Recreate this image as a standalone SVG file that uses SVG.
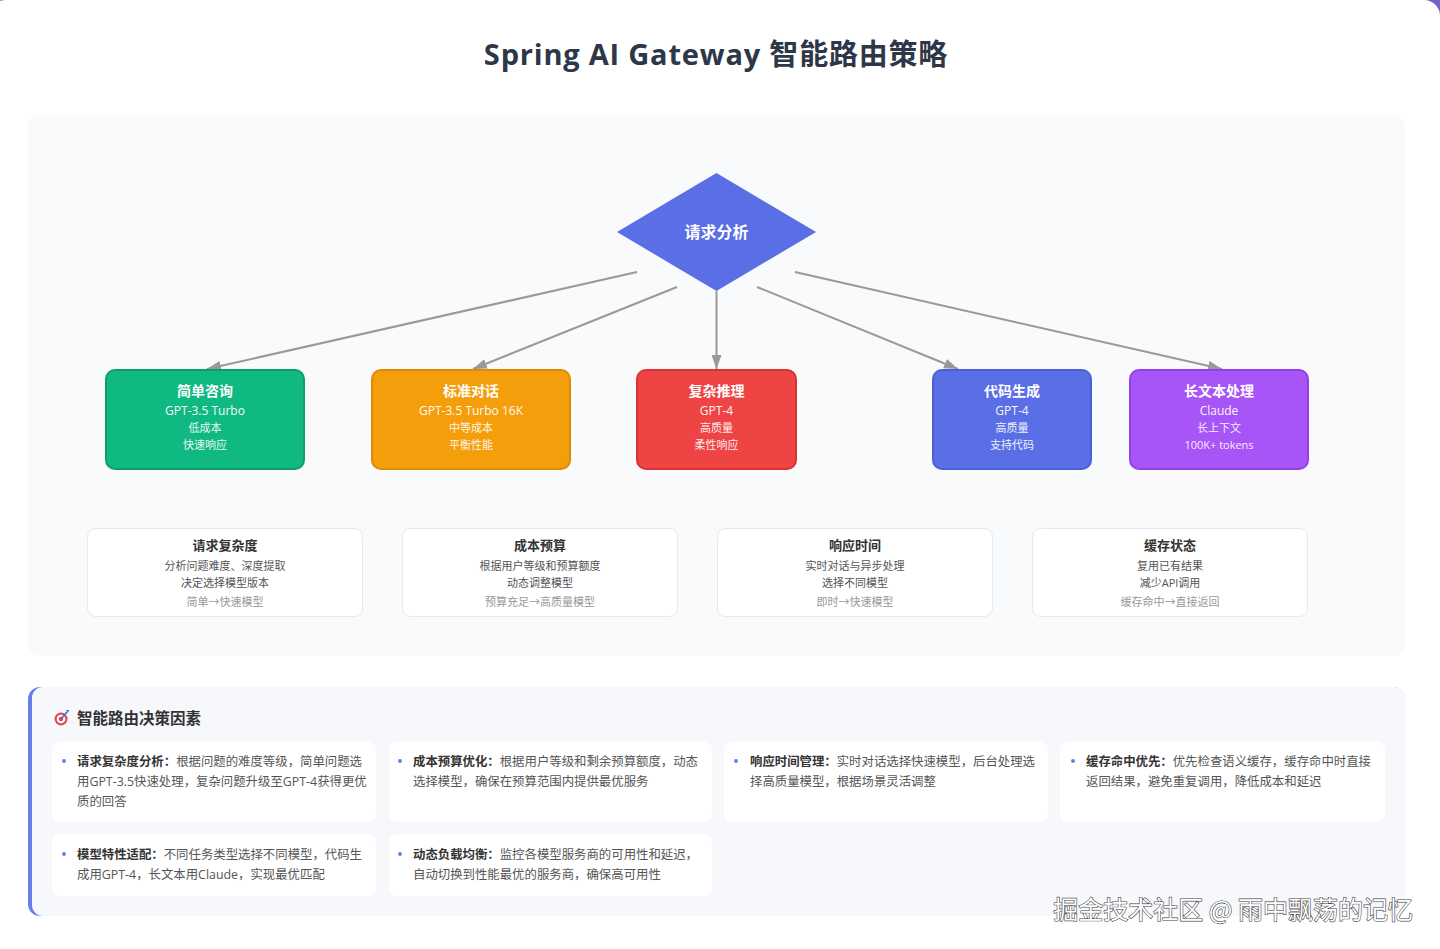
<svg xmlns="http://www.w3.org/2000/svg" width="1440" height="949" viewBox="0 0 1440 949">
<defs>
<linearGradient id="bg" x1="0" y1="0" x2="1" y2="1"><stop offset="0" stop-color="#667eea"/><stop offset="1" stop-color="#764ba2"/></linearGradient>
<marker id="arr" viewBox="0 0 14 10" refX="14" refY="5" markerWidth="14" markerHeight="10" markerUnits="userSpaceOnUse" orient="auto"><path d="M0,0 L14,5 L0,10 Z" fill="#999"/></marker>
<style>
.f{font-family:"Open Sans","Noto Sans CJK SC",sans-serif}
.c{font-family:"Noto Sans CJK SC","Open Sans",sans-serif}
.nt{font-size:14px;font-weight:bold;fill:#fff;text-anchor:middle}
.nm{font-size:12px;fill:#fff;text-anchor:middle;opacity:.95}
.ns{font-size:11px;fill:#fff;text-anchor:middle;opacity:.9}
.node rect{stroke-width:2}
.card{fill:#fff;stroke:#e5e9f0;stroke-width:1}
.ct{font-size:13px;font-weight:bold;fill:#333;text-anchor:middle}
.cl{font-size:11px;fill:#555;text-anchor:middle}
.cg{font-size:11px;fill:#999;text-anchor:middle}
.conn line{stroke:#999;stroke-width:2;marker-end:url(#arr)}
.bc{fill:#fff}
.bt{font-size:12.4px;fill:#555}
.bb{font-weight:bold;fill:#333}
.dot{fill:#667eea}
</style>
</defs>
<rect x="0" y="0" width="1440" height="949" fill="url(#bg)"/>
<rect x="-10" y="0" width="1450" height="965" rx="16" fill="#fff"/>
<text class="f" x="716" y="65" font-size="29" font-weight="bold" fill="#2d3748" text-anchor="middle" letter-spacing="0.8">Spring AI Gateway 智能路由策略</text>

<rect x="28" y="115" width="1377" height="541" rx="12" fill="#f8fafc"/>

<g id="connectors" class="conn">
<line x1="637" y1="272" x2="207" y2="369"/>
<line x1="677" y1="287" x2="473" y2="369"/>
<line x1="716.5" y1="291" x2="716.5" y2="369"/>
<line x1="757" y1="287" x2="958" y2="369"/>
<line x1="795" y1="272" x2="1222" y2="369"/>
</g>

<g id="analysis">
<polygon points="716.5,173 816,232 716.5,291 617,232" fill="#5a6ee6"/>
<text class="c" x="716.5" y="238" font-size="16" font-weight="bold" fill="#fff" text-anchor="middle">请求分析</text>
</g>

<g id="simple" class="node f">
<rect x="106" y="370" width="198" height="99" rx="9" fill="#10b981" stroke="#0f9d70"/>
<text class="nt" x="205" y="396">简单咨询</text>
<text class="nm" x="205" y="415">GPT-3.5 Turbo</text>
<text class="ns" x="205" y="432">低成本</text>
<text class="ns" x="205" y="449">快速响应</text>
</g>
<g id="standard" class="node f">
<rect x="372" y="370" width="198" height="99" rx="9" fill="#f59e0b" stroke="#dd8a08"/>
<text class="nt" x="471" y="396">标准对话</text>
<text class="nm" x="471" y="415">GPT-3.5 Turbo 16K</text>
<text class="ns" x="471" y="432">中等成本</text>
<text class="ns" x="471" y="449">平衡性能</text>
</g>
<g id="complex" class="node f">
<rect x="637" y="370" width="159" height="99" rx="9" fill="#ef4444" stroke="#d83434"/>
<text class="nt" x="716.5" y="396">复杂推理</text>
<text class="nm" x="716.5" y="415">GPT-4</text>
<text class="ns" x="716.5" y="432">高质量</text>
<text class="ns" x="716.5" y="449">柔性响应</text>
</g>
<g id="code" class="node f">
<rect x="933" y="370" width="158" height="99" rx="9" fill="#5a6ee6" stroke="#4c5fd6"/>
<text class="nt" x="1012" y="396">代码生成</text>
<text class="nm" x="1012" y="415">GPT-4</text>
<text class="ns" x="1012" y="432">高质量</text>
<text class="ns" x="1012" y="449">支持代码</text>
</g>
<g id="longtext" class="node f">
<rect x="1130" y="370" width="178" height="99" rx="9" fill="#a855f7" stroke="#9440e8"/>
<text class="nt" x="1219" y="396">长文本处理</text>
<text class="nm" x="1219" y="415">Claude</text>
<text class="ns" x="1219" y="432">长上下文</text>
<text class="ns" x="1219" y="449">100K+ tokens</text>
</g>

<g id="factor-complexity" class="f">
<rect class="card" x="87.5" y="528.5" width="275" height="88" rx="8"/>
<text class="ct" x="225" y="550">请求复杂度</text>
<text class="cl" x="225" y="570">分析问题难度、深度提取</text>
<text class="cl" x="225" y="587">决定选择模型版本</text>
<text class="cg" x="225" y="606">简单→快速模型</text>
</g>
<g id="factor-cost" class="f">
<rect class="card" x="402.5" y="528.5" width="275" height="88" rx="8"/>
<text class="ct" x="540" y="550">成本预算</text>
<text class="cl" x="540" y="570">根据用户等级和预算额度</text>
<text class="cl" x="540" y="587">动态调整模型</text>
<text class="cg" x="540" y="606">预算充足→高质量模型</text>
</g>
<g id="factor-time" class="f">
<rect class="card" x="717.5" y="528.5" width="275" height="88" rx="8"/>
<text class="ct" x="855" y="550">响应时间</text>
<text class="cl" x="855" y="570">实时对话与异步处理</text>
<text class="cl" x="855" y="587">选择不同模型</text>
<text class="cg" x="855" y="606">即时→快速模型</text>
</g>
<g id="factor-cache" class="f">
<rect class="card" x="1032.5" y="528.5" width="275" height="88" rx="8"/>
<text class="ct" x="1170" y="550">缓存状态</text>
<text class="cl" x="1170" y="570">复用已有结果</text>
<text class="cl" x="1170" y="587">减少API调用</text>
<text class="cg" x="1170" y="606">缓存命中→直接返回</text>
</g>

<g id="decision-panel" class="f">
<rect x="28" y="687" width="1377" height="229" rx="12" fill="#667eea"/>
<rect x="32" y="687" width="1373" height="229" rx="11" fill="#f6f8fb"/>
<g id="target-icon">
<circle cx="61" cy="719" r="6.5" fill="#e5484d"/>
<circle cx="61" cy="719" r="4.3" fill="#fff"/>
<circle cx="61" cy="719" r="2.3" fill="#e5484d"/>
<line x1="61" y1="719" x2="67" y2="712" stroke="#3b6fd8" stroke-width="1.6"/>
<path d="M66,710 L69,710 L68,713 Z" fill="#3b6fd8"/>
</g>
<text x="77" y="724" font-size="15.5" font-weight="bold" fill="#333" class="c">智能路由决策因素</text>

<g id="item1">
<rect class="bc" x="52" y="742" width="324" height="80" rx="8"/>
<circle class="dot" cx="64" cy="761" r="2"/>
<text class="bt" x="77" y="766"><tspan class="bb">请求复杂度分析：</tspan>根据问题的难度等级，简单问题选</text>
<text class="bt" x="77" y="786">用GPT-3.5快速处理，复杂问题升级至GPT-4获得更优</text>
<text class="bt" x="77" y="806">质的回答</text>
</g>
<g id="item2">
<rect class="bc" x="389" y="742" width="323" height="80" rx="8"/>
<circle class="dot" cx="400" cy="761" r="2"/>
<text class="bt" x="413" y="766"><tspan class="bb">成本预算优化：</tspan>根据用户等级和剩余预算额度，动态</text>
<text class="bt" x="413" y="786">选择模型，确保在预算范围内提供最优服务</text>
</g>
<g id="item3">
<rect class="bc" x="724" y="742" width="324" height="80" rx="8"/>
<circle class="dot" cx="736" cy="761" r="2"/>
<text class="bt" x="750" y="766"><tspan class="bb">响应时间管理：</tspan>实时对话选择快速模型，后台处理选</text>
<text class="bt" x="750" y="786">择高质量模型，根据场景灵活调整</text>
</g>
<g id="item4">
<rect class="bc" x="1060" y="742" width="325" height="80" rx="8"/>
<circle class="dot" cx="1073" cy="761" r="2"/>
<text class="bt" x="1086" y="766"><tspan class="bb">缓存命中优先：</tspan>优先检查语义缓存，缓存命中时直接</text>
<text class="bt" x="1086" y="786">返回结果，避免重复调用，降低成本和延迟</text>
</g>
<g id="item5">
<rect class="bc" x="52" y="834" width="324" height="62" rx="8"/>
<circle class="dot" cx="64" cy="854" r="2"/>
<text class="bt" x="77" y="859"><tspan class="bb">模型特性适配：</tspan>不同任务类型选择不同模型，代码生</text>
<text class="bt" x="77" y="879">成用GPT-4，长文本用Claude，实现最优匹配</text>
</g>
<g id="item6">
<rect class="bc" x="389" y="834" width="323" height="62" rx="8"/>
<circle class="dot" cx="400" cy="854" r="2"/>
<text class="bt" x="413" y="859"><tspan class="bb">动态负载均衡：</tspan>监控各模型服务商的可用性和延迟，</text>
<text class="bt" x="413" y="879">自动切换到性能最优的服务商，确保高可用性</text>
</g>
</g>

<text class="c" x="1413" y="919" font-size="25" fill="#fff" stroke="#444" stroke-width="1.2" paint-order="stroke" text-anchor="end">掘金技术社区 @ 雨中飘荡的记忆</text>
</svg>
